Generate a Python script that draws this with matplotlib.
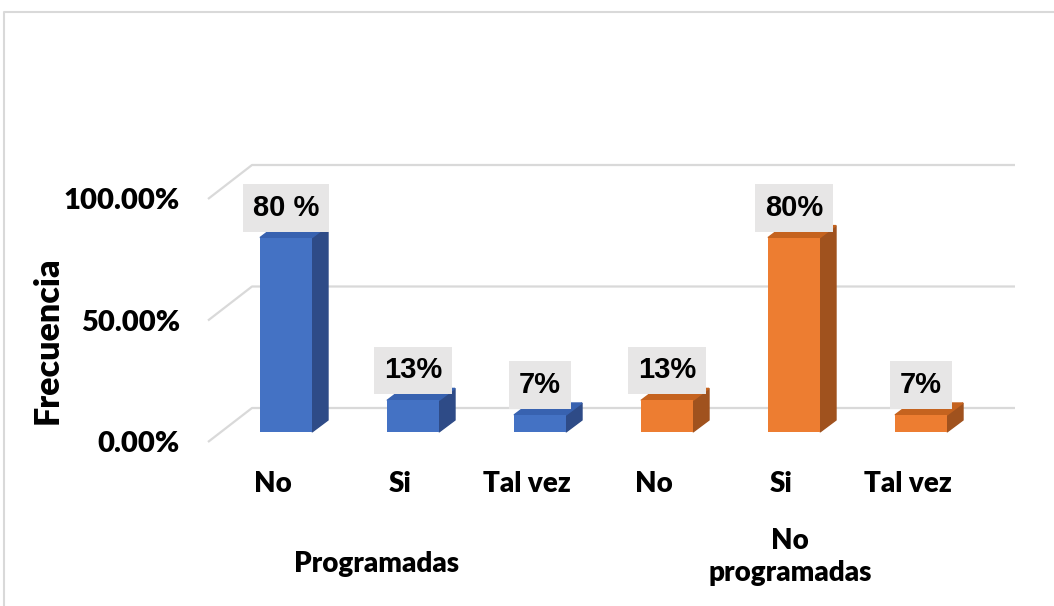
import matplotlib.pyplot as plt
from matplotlib.patches import Polygon
from matplotlib.lines import Line2D

# data
categories = ["No", "Si", "Tal vez", "No", "Si", "Tal vez"]
values = [80, 13, 7, 13, 80, 7]
labels = ["80 %", "13%", "7%", "13%", "80%", "7%"]
groups = ["Programadas", "No\nprogramadas"]
group_pos = [0.71, 3.97]
group_y = [-54.3, -51.4]
ticks = [0, 50, 100]
tick_labels = ["0.00%", "50.00%", "100.00%"]

front = ["#4472C4"] * 3 + ["#ED7D31"] * 3
side = ["#2E4B87"] * 3 + ["#A0521E"] * 3
top = ["#3862B0"] * 3 + ["#C5631F"] * 3

W, H = 1054, 606
fig = plt.figure(figsize=(W / 100, H / 100), dpi=100)
ax = fig.add_axes([0, 0, 1, 1])

# pixel layout -> data units (x: category index, y: percent)
x0_px, step_px = 286, 127
base_px, per_pct = 432, 2.43
ax.set_xlim(-x0_px / step_px, (W - x0_px) / step_px)
ax.set_ylim(-(H - base_px) / per_pct, base_px / per_pct)
ax.axis("off")

bw = 52 / step_px
ddx, ddy = 16 / step_px, 12 / per_pct

# back wall gridlines + left floor diagonals
back_l, back_r = (252 - x0_px) / step_px, (1015 - x0_px) / step_px
front_l = (208 - x0_px) / step_px
up_back, down_front = 24 / per_pct, 10 / per_pct
for g, tl in zip(ticks, tick_labels):
    ax.plot([front_l, back_l, back_r], [g - down_front, g + up_back, g + up_back],
            color="#D9D9D9", lw=1.6, zorder=1, solid_capstyle="butt")
    ax.text((180 - x0_px) / step_px, g - down_front - 1, tl, ha="right", va="center",
            fontsize=21, fontweight="heavy", family="Lato")

for i, v in enumerate(values):
    xl, xr = i - bw / 2, i + bw / 2
    ax.bar(i, v, width=bw, color=front[i], zorder=3)
    ax.add_patch(Polygon([(xr, 0), (xr + ddx, ddy), (xr + ddx, v + ddy), (xr, v)],
                         closed=True, color=side[i], zorder=2))
    ax.add_patch(Polygon([(xl, v), (xl + ddx, v + ddy), (xr + ddx, v + ddy), (xr, v)],
                         closed=True, color=top[i], zorder=2))
    ax.annotate(labels[i], (i, v), xytext=(0, 11.5), textcoords="offset points",
                ha="center", va="bottom", fontsize=21, fontweight="bold",
                family="Liberation Sans", zorder=5,
                bbox=dict(boxstyle="square,pad=0.34", fc="#E7E6E6", ec="none"))
    ax.text(i - 13 / step_px, (base_px - 484) / per_pct, categories[i], ha="center",
            va="center", fontsize=20, fontweight="heavy", family="Lato")

for gx, gy, gname in zip(group_pos, group_y, groups):
    ax.text(gx, gy, gname, ha="center", va="center",
            fontsize=20, fontweight="heavy", family="Lato", linespacing=1.3)

ax.text(-(x0_px - 48) / step_px, (base_px - 340) / per_pct, "Frecuencia", rotation=90,
        ha="center", va="center", fontsize=24.5, fontweight="heavy", family="Lato")

# chart frame
fig.add_artist(Line2D([4 / W, 4 / W, 1], [0, 1 - 12 / H, 1 - 12 / H],
                      transform=fig.transFigure, color="#D9D9D9", lw=1.5))

fig.savefig("out.png", dpi=100)
